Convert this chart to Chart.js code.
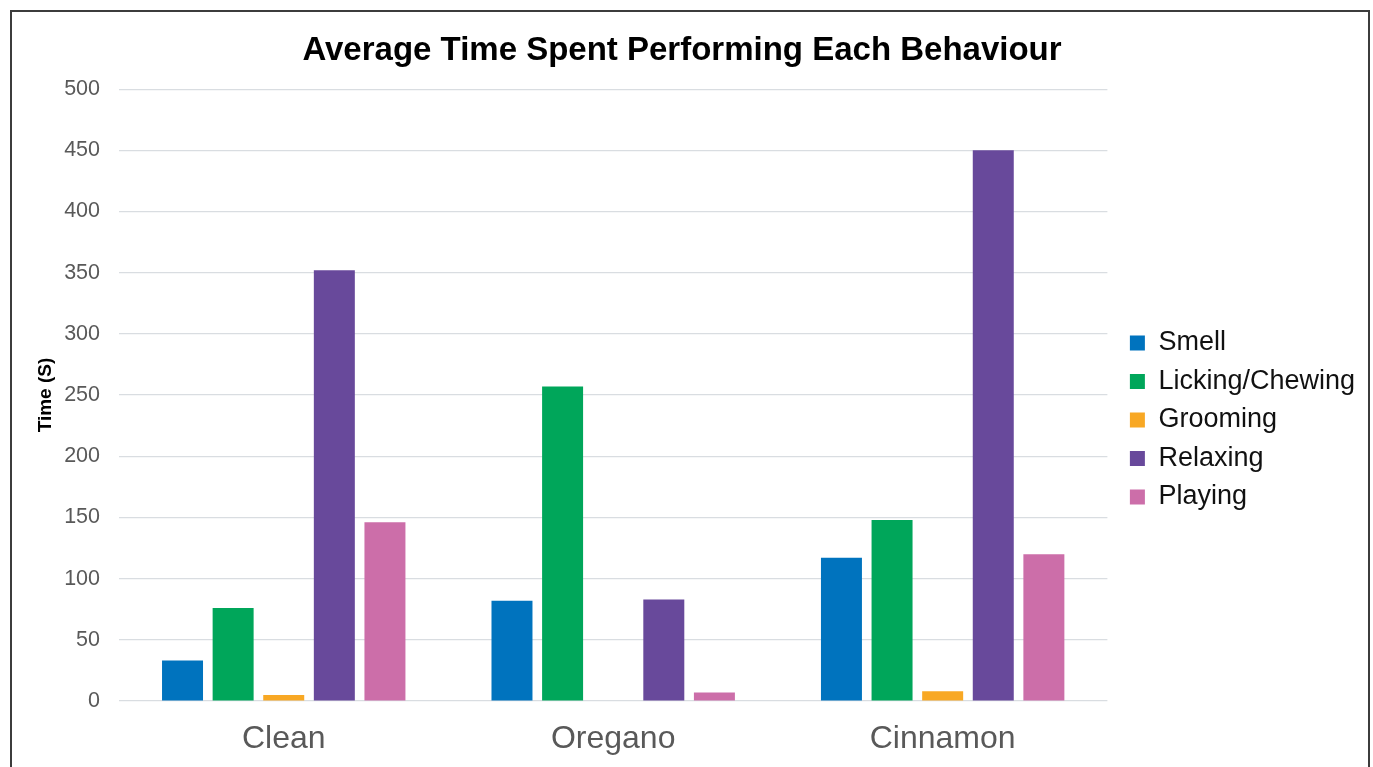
<!DOCTYPE html>
<html>
<head>
<meta charset="utf-8">
<script src="https://cdn.jsdelivr.net/npm/chart.js@4"></script>
<style>
  html, body { margin: 0; padding: 0; background: #ffffff; overflow: hidden; }
  #wrap { position: absolute; left: 0; top: 0; width: 1373px; height: 767px; }
</style>
</head>
<body>
<div id="wrap"><canvas id="chart"></canvas></div>
<script>
// Conditions on the x axis
const categories = ['Clean', 'Oregano', 'Cinnamon'];

// Average time (seconds) per behaviour, one value per condition
const smell    = [33, 82, 117];
const licking  = [76, 257, 148];
const grooming = [5, 0, 8];
const relaxing = [352, 83, 450];
const playing  = [146, 7, 120];

const seriesNames = ['Smell', 'Licking/Chewing', 'Grooming', 'Relaxing', 'Playing'];
const seriesColors = ['#0073be', '#00a65a', '#f8a824', '#68499b', '#cc6ea9'];

const yTicks = [0, 50, 100, 150, 200, 250, 300, 350, 400, 450, 500];

const FONT = '"Liberation Sans", Arial, Helvetica, sans-serif';

const seriesValues = [smell, licking, grooming, relaxing, playing];
const datasets = seriesNames.map((name, i) => ({
  label: name,
  data: seriesValues[i],
  backgroundColor: seriesColors[i],
  borderWidth: 0,
  categoryPercentage: 0.768,
  barPercentage: 0.81
}));

// White background and the thin dark frame around the figure
const framePlugin = {
  id: 'frame',
  beforeDraw(chart) {
    const ctx = chart.ctx;
    ctx.save();
    ctx.fillStyle = '#ffffff';
    ctx.fillRect(0, 0, chart.width, chart.height);
    ctx.restore();
  },
  afterDraw(chart) {
    const ctx = chart.ctx;
    ctx.save();
    ctx.strokeStyle = '#3c3c3c';
    ctx.lineWidth = 2;
    ctx.beginPath();
    ctx.moveTo(11, chart.height + 5);
    ctx.lineTo(11, 11);
    ctx.lineTo(chart.width - 4, 11);
    ctx.lineTo(chart.width - 4, chart.height + 5);
    ctx.stroke();
    ctx.restore();
  }
};

// Move the legend block a little right of and below its default slot
const legendOffset = {
  id: 'legendOffset',
  afterLayout(chart) {
    const lg = chart.legend;
    if (!lg) return;
    const dx = 11, dy = 41.5;
    lg.left += dx; lg.right += dx;
    lg.top += dy; lg.bottom += dy;
  }
};

new Chart(document.getElementById('chart'), {
  type: 'bar',
  data: { labels: categories, datasets },
  plugins: [framePlugin, legendOffset],
  options: {
    responsive: true,
    maintainAspectRatio: false,
    animation: false,
    layout: { padding: { left: 10, right: 19, top: 0, bottom: 10 } },
    plugins: {
      title: {
        display: true,
        text: 'Average Time Spent Performing Each Behaviour',
        color: '#000000',
        font: { family: FONT, size: 33, weight: 'bold' },
        padding: { top: 31, bottom: 18.5 }
      },
      legend: {
        display: true,
        position: 'right',
        align: 'center',
        labels: {
          color: '#111111',
          font: { family: FONT, size: 27 },
          boxWidth: 15,
          boxHeight: 15,
          padding: 11.5
        }
      },
      tooltip: { enabled: false }
    },
    scales: {
      x: {
        grid: { display: false, drawTicks: false },
        border: { display: false },
        afterFit(scale) { scale.height = 56; },
        ticks: {
          color: '#595959',
          font: { family: FONT, size: 32 },
          padding: 18.8
        }
      },
      y: {
        min: 0,
        max: 500,
        afterBuildTicks(scale) {
          scale.ticks = yTicks.map(v => ({ value: v }));
        },
        afterFit(scale) { scale.width = 109; },
        grid: { color: '#d9dde1', lineWidth: 1.2, drawTicks: false },
        border: { display: false },
        ticks: {
          color: '#595959',
          font: { family: FONT, size: 21.5 },
          padding: 19
        },
        title: {
          display: true,
          text: 'Time (S)',
          color: '#000000',
          font: { family: FONT, size: 19, weight: 'bold' },
          padding: { top: 24, bottom: 8 }
        }
      }
    }
  }
});
</script>
</body>
</html>
